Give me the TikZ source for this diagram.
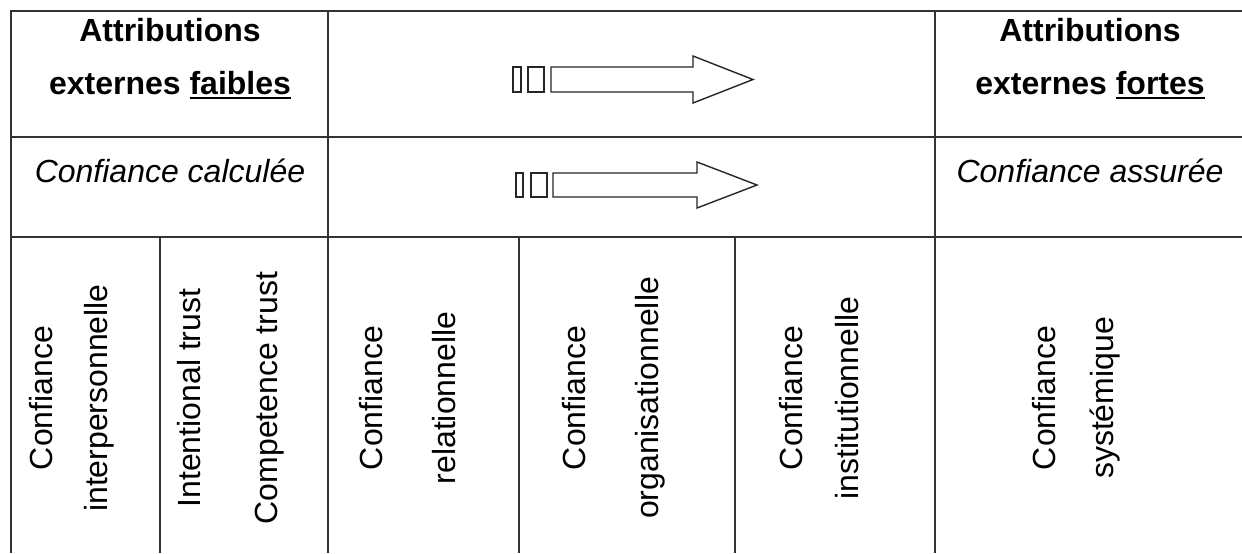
\documentclass[tikz,border=0pt]{standalone}
\usepackage{fontspec}
\setmainfont{Liberation Sans}
\newcommand\myul[1]{\setbox0=\hbox{#1}\rlap{\rule[-2.3pt]{\wd0}{1pt}}\box0}
\begin{document}
\begin{tikzpicture}[x=0.5pt,y=-0.5pt,
  grid/.style={draw=black!80, line width=1pt},
  txt/.style={inner sep=0pt, anchor=base, font=\fontsize{16}{19}\selectfont},
  htb/.style={inner sep=0pt, anchor=base, font=\bfseries\fontsize{16}{19}\selectfont},
  hti/.style={inner sep=0pt, anchor=base, font=\itshape\fontsize{16}{19}\selectfont},
  vtxt/.style={txt, rotate=90},
  hollow/.style={draw=black!85, line width=0.7pt, line join=miter}]
\useasboundingbox (0,0) rectangle (1242,553);
\fill[white] (0,0) rectangle (1242,553);
% table rules
\draw[grid] (1242,11) -- (11,11) -- (11,553);
\draw[grid] (11,137) -- (1242,137);
\draw[grid] (11,237) -- (1242,237);
\draw[grid] (328,11) -- (328,553);
\draw[grid] (935,11) -- (935,553);
\draw[grid] (160,237) -- (160,553);
\draw[grid] (519,237) -- (519,553);
\draw[grid] (735,237) -- (735,553);
% header texts
\node[htb] (a1) at (170,41) {Attributions};
\node[htb] (a2) at (170,94) {externes \myul{faibles}};
\node[htb] (b1) at (1090,41) {Attributions};
\node[htb] (b2) at (1090,94) {externes \myul{fortes}};
\node[hti] (c1) at (170,182) {Confiance calculée};
\node[hti] (c2) at (1090,182) {Confiance assurée};
% arrows
\draw[hollow] (513,67) rectangle (521,92);
\draw[hollow] (528,67) rectangle (544,92);
\draw[hollow] (551,67) -- (693,67) -- (693,56) -- (753,79.5) -- (693,103) -- (693,92) -- (551,92) -- cycle;
\draw[hollow] (516,173) rectangle (523,197);
\draw[hollow] (531,173) rectangle (547,197);
\draw[hollow] (553,173) -- (697,173) -- (697,162) -- (757,185) -- (697,208) -- (697,197) -- (553,197) -- cycle;
% vertical texts
\node[vtxt] (d1) at (52,398) {Confiance};
\node[vtxt] (d2) at (107,398) {interpersonnelle};
\node[vtxt] (e1) at (200,398) {Intentional trust};
\node[vtxt] (e2) at (277,398) {Competence trust};
\node[vtxt] (f1) at (382,398) {Confiance};
\node[vtxt] (f2) at (455,398) {relationnelle};
\node[vtxt] (g1) at (585,398) {Confiance};
\node[vtxt] (g2) at (658,398) {organisationnelle};
\node[vtxt] (h1) at (802,398) {Confiance};
\node[vtxt] (h2) at (858,398) {institutionnelle};
\node[vtxt] (k1) at (1055,398) {Confiance};
\node[vtxt] (k2) at (1113,398) {systémique};
\end{tikzpicture}
\end{document}
